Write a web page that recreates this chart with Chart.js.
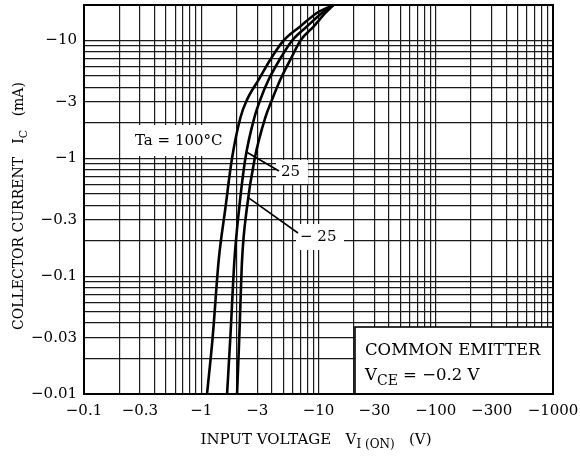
<!DOCTYPE html>
<html>
<head>
<meta charset="utf-8">
<script src="https://cdn.jsdelivr.net/npm/chart.js@4/dist/chart.umd.min.js"></script>
<style>
  html, body { margin: 0; padding: 0; background: #fff; }
  #wrap { width: 580px; height: 465px; }
</style>
</head>
<body>
<div id="wrap"><canvas id="grafico" width="580" height="465"></canvas></div>
<script>
// collector current (mA, magnitude) and input voltage (V, magnitude) per temperature
const correnteMA = [0.01, 0.03, 0.138, 0.366, 1.0, 2.22, 3.15, 4.66, 6.9, 10, 13.2, 17.2, 20]
const tensao100 = [1.12, 1.25, 1.41, 1.6, 1.83, 2.16, 2.46, 3.09, 3.89, 5.05, 7.02, 9.75, 13.4]
const tensao25 = [1.66, 1.77, 1.92, 2.1, 2.38, 2.84, 3.19, 3.76, 4.67, 5.96, 8.0, 10.76, 13.4]
const tensaoM25 = [2.02, 2.11, 2.23, 2.44, 2.86, 3.52, 4.02, 4.73, 5.77, 7.02, 9.12, 11.5, 13.4]

const xTicks = [0.1, 0.3, 1, 3, 10, 30, 100, 300, 1000]
const xLabels = ['−0.1', '−0.3', '−1', '−3', '−10', '−30', '−100', '−300', '−1000']
const yTicks = [0.01, 0.03, 0.1, 0.3, 1, 3, 10]
const yLabels = ['−0.01', '−0.03', '−0.1', '−0.3', '−1', '−3', '−10']

const FONTE = '"DejaVu Serif", "Liberation Serif", serif'

function pontos(xs) {
  return xs.map((v, i) => ({ x: v, y: correnteMA[i] }))
}

// grid ticks: 1..9 per decade
function gradeLog(min, max) {
  const t = []
  for (let e = Math.floor(Math.log10(min)); e <= Math.ceil(Math.log10(max)); e++) {
    for (let m = 1; m <= 9; m++) {
      const v = m * Math.pow(10, e)
      if (v >= min * 0.999 && v <= max * 1.001) t.push(+v.toPrecision(3))
    }
  }
  return t
}

function rotulo(valor, valores, rotulos) {
  const i = valores.findIndex((v) => Math.abs(v - valor) / v < 1e-6)
  return i >= 0 ? rotulos[i] : ''
}

// text with subscripts: partes = [[texto, sub?], ...]
function textoRico(ctx, partes, x, y, tam, centro) {
  const fN = tam + 'px ' + FONTE
  const fS = Math.round(tam * 0.82) + 'px ' + FONTE
  let larg = 0
  partes.forEach(([t, s]) => {
    ctx.font = s ? fS : fN
    larg += ctx.measureText(t).width
  })
  let cx = centro ? x - larg / 2 : x
  ctx.textBaseline = 'middle'
  ctx.textAlign = 'left'
  partes.forEach(([t, s]) => {
    ctx.font = s ? fS : fN
    ctx.fillText(t, cx, s ? y + tam * 0.35 : y)
    cx += ctx.measureText(t).width
  })
}

const anotacoes = {
  id: 'anotacoes',
  beforeDatasetsDraw(chart) {
    const ctx = chart.ctx
    ctx.save()
    ctx.fillStyle = '#fff'
    ctx.fillRect(124, 125, 104, 31)
    ctx.fillRect(276, 160, 32, 24)
    ctx.fillRect(296, 224, 48, 26)
    ctx.restore()
  },
  afterDatasetsDraw(chart) {
    const ctx = chart.ctx
    const a = chart.chartArea
    const sx = chart.scales.x
    const sy = chart.scales.y
    ctx.save()
    ctx.strokeStyle = '#000'
    ctx.fillStyle = '#000'

    // leader lines
    ctx.lineWidth = 1.6
    ctx.beginPath()
    ctx.moveTo(sx.getPixelForValue(2.47), sy.getPixelForValue(1.12))
    ctx.lineTo(279, 171)
    ctx.moveTo(sx.getPixelForValue(2.52), sy.getPixelForValue(0.464))
    ctx.lineTo(298, 233)
    ctx.stroke()

    ctx.font = '15px ' + FONTE
    ctx.textBaseline = 'middle'
    ctx.textAlign = 'left'
    ctx.fillText('Ta = 100°C', 135, 141)
    ctx.fillText('25', 281, 172)
    ctx.fillText('− 25', 300, 237)

    // condition box
    ctx.fillStyle = '#fff'
    ctx.fillRect(355, 327, a.right - 355, a.bottom - 327)
    ctx.lineWidth = 1.6
    ctx.strokeRect(355, 327, a.right - 355, a.bottom - 327)
    ctx.fillStyle = '#000'
    ctx.font = '16.5px ' + FONTE
    ctx.fillText('COMMON EMITTER', 365, 351)
    textoRico(ctx, [['V', false], ['CE', true], [' = −0.2 V', false]], 365, 376, 16.5, false)

    // frame
    ctx.lineWidth = 2
    ctx.strokeRect(a.left, a.top, a.right - a.left, a.bottom - a.top)
    ctx.restore()
  },
  afterDraw(chart) {
    const ctx = chart.ctx
    ctx.save()
    ctx.fillStyle = '#000'
    // x title
    textoRico(ctx, [['INPUT VOLTAGE   V', false], ['I (ON)', true], ['   (V)', false]], 316, 440, 15, true)
    // y title
    ctx.translate(19, 206)
    ctx.rotate(-Math.PI / 2)
    textoRico(ctx, [['COLLECTOR CURRENT   I', false], ['C', true], ['   (mA)', false]], 0, 0, 14, true)
    ctx.restore()
  },
}

const serie = (dados) => ({
  data: pontos(dados),
  showLine: true,
  borderColor: '#000',
  borderWidth: 2.6,
  pointRadius: 0,
  cubicInterpolationMode: 'monotone',
  fill: false,
})

const grafico = new Chart(document.getElementById('grafico'), {
  type: 'scatter',
  data: {
    datasets: [serie(tensao100), serie(tensao25), serie(tensaoM25)],
  },
  plugins: [anotacoes],
  options: {
    responsive: false,
    animation: false,
    devicePixelRatio: 1,
    layout: { padding: { left: 0, right: 27, top: 5, bottom: 0 } },
    plugins: {
      legend: { display: false },
      tooltip: { enabled: false },
    },
    scales: {
      x: {
        type: 'logarithmic',
        min: 0.1,
        max: 1000,
        afterBuildTicks: (eixo) => {
          eixo.ticks = gradeLog(0.1, 1000).map((v) => ({ value: v }))
        },
        afterFit: (eixo) => {
          eixo.height = 71
          eixo.paddingLeft = 0
          eixo.paddingRight = 0
        },
        ticks: {
          autoSkip: false,
          maxRotation: 0,
          padding: 8,
          color: '#000',
          font: { family: FONTE, size: 15 },
          callback: (v) => rotulo(v, xTicks, xLabels),
        },
        grid: { color: '#1a1a1a', lineWidth: 1.2, drawTicks: false },
        border: { color: '#000', width: 2 },
      },
      y: {
        type: 'logarithmic',
        min: 0.01,
        max: 20,
        afterBuildTicks: (eixo) => {
          eixo.ticks = gradeLog(0.01, 20).map((v) => ({ value: v }))
        },
        afterFit: (eixo) => {
          eixo.width = 84
          eixo.paddingTop = 0
          eixo.paddingBottom = 0
        },
        ticks: {
          autoSkip: false,
          padding: 7,
          color: '#000',
          font: { family: FONTE, size: 15 },
          callback: (v) => rotulo(v, yTicks, yLabels),
        },
        grid: { color: '#1a1a1a', lineWidth: 1.2, drawTicks: false },
        border: { color: '#000', width: 2 },
      },
    },
  },
})
</script>
</body>
</html>
